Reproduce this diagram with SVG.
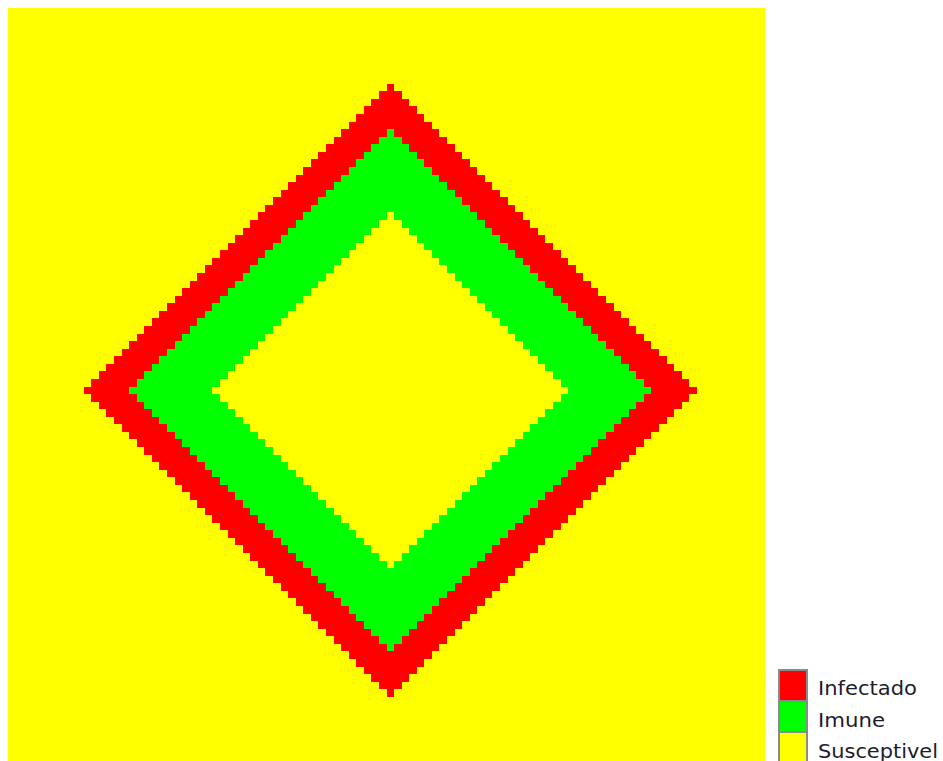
<svg xmlns="http://www.w3.org/2000/svg" width="943" height="761" viewBox="0 0 943 761">
<style>
.s{fill:#ffff00}
.i{fill:#ff0000}
.m{fill:#00ff00}
.sw{stroke:#8a8a8a;stroke-width:2}
.lb{font-family:"DejaVu Sans","Liberation Sans",sans-serif;font-size:19px;fill:#1c1c2c}
</style>
<rect width="943" height="761" fill="#ffffff"/>
<g id="grid" transform="translate(8,8) scale(7.57)" shape-rendering="crispEdges">
<rect class="s" x="0" y="0" width="100" height="100"/>
<path id="infected-ring" class="i" d="M50 10 h1
v1h1 v1h1 v1h1 v1h1 v1h1 v1h1 v1h1 v1h1 v1h1 v1h1
v1h1 v1h1 v1h1 v1h1 v1h1 v1h1 v1h1 v1h1 v1h1 v1h1
v1h1 v1h1 v1h1 v1h1 v1h1 v1h1 v1h1 v1h1 v1h1 v1h1
v1h1 v1h1 v1h1 v1h1 v1h1 v1h1 v1h1 v1h1 v1h1 v1h1
v1
h-1v1 h-1v1 h-1v1 h-1v1 h-1v1 h-1v1 h-1v1 h-1v1 h-1v1 h-1v1
h-1v1 h-1v1 h-1v1 h-1v1 h-1v1 h-1v1 h-1v1 h-1v1 h-1v1 h-1v1
h-1v1 h-1v1 h-1v1 h-1v1 h-1v1 h-1v1 h-1v1 h-1v1 h-1v1 h-1v1
h-1v1 h-1v1 h-1v1 h-1v1 h-1v1 h-1v1 h-1v1 h-1v1 h-1v1 h-1v1
h-1
v-1h-1 v-1h-1 v-1h-1 v-1h-1 v-1h-1 v-1h-1 v-1h-1 v-1h-1 v-1h-1 v-1h-1
v-1h-1 v-1h-1 v-1h-1 v-1h-1 v-1h-1 v-1h-1 v-1h-1 v-1h-1 v-1h-1 v-1h-1
v-1h-1 v-1h-1 v-1h-1 v-1h-1 v-1h-1 v-1h-1 v-1h-1 v-1h-1 v-1h-1 v-1h-1
v-1h-1 v-1h-1 v-1h-1 v-1h-1 v-1h-1 v-1h-1 v-1h-1 v-1h-1 v-1h-1 v-1h-1
v-1
h1v-1 h1v-1 h1v-1 h1v-1 h1v-1 h1v-1 h1v-1 h1v-1 h1v-1 h1v-1
h1v-1 h1v-1 h1v-1 h1v-1 h1v-1 h1v-1 h1v-1 h1v-1 h1v-1 h1v-1
h1v-1 h1v-1 h1v-1 h1v-1 h1v-1 h1v-1 h1v-1 h1v-1 h1v-1 h1v-1
h1v-1 h1v-1 h1v-1 h1v-1 h1v-1 h1v-1 h1v-1 h1v-1 h1v-1 h1v-1
z"/>
<path id="immune-ring" class="m" d="M50 16 h1
v1h1 v1h1 v1h1 v1h1 v1h1 v1h1 v1h1 v1h1 v1h1 v1h1
v1h1 v1h1 v1h1 v1h1 v1h1 v1h1 v1h1 v1h1 v1h1 v1h1
v1h1 v1h1 v1h1 v1h1 v1h1 v1h1 v1h1 v1h1 v1h1 v1h1
v1h1 v1h1 v1h1 v1h1
v1
h-1v1 h-1v1 h-1v1 h-1v1 h-1v1 h-1v1 h-1v1 h-1v1 h-1v1 h-1v1
h-1v1 h-1v1 h-1v1 h-1v1 h-1v1 h-1v1 h-1v1 h-1v1 h-1v1 h-1v1
h-1v1 h-1v1 h-1v1 h-1v1 h-1v1 h-1v1 h-1v1 h-1v1 h-1v1 h-1v1
h-1v1 h-1v1 h-1v1 h-1v1
h-1
v-1h-1 v-1h-1 v-1h-1 v-1h-1 v-1h-1 v-1h-1 v-1h-1 v-1h-1 v-1h-1 v-1h-1
v-1h-1 v-1h-1 v-1h-1 v-1h-1 v-1h-1 v-1h-1 v-1h-1 v-1h-1 v-1h-1 v-1h-1
v-1h-1 v-1h-1 v-1h-1 v-1h-1 v-1h-1 v-1h-1 v-1h-1 v-1h-1 v-1h-1 v-1h-1
v-1h-1 v-1h-1 v-1h-1 v-1h-1
v-1
h1v-1 h1v-1 h1v-1 h1v-1 h1v-1 h1v-1 h1v-1 h1v-1 h1v-1 h1v-1
h1v-1 h1v-1 h1v-1 h1v-1 h1v-1 h1v-1 h1v-1 h1v-1 h1v-1 h1v-1
h1v-1 h1v-1 h1v-1 h1v-1 h1v-1 h1v-1 h1v-1 h1v-1 h1v-1 h1v-1
h1v-1 h1v-1 h1v-1 h1v-1
z"/>
<path id="susceptible-core" class="s" d="M50 27 h1
v1h1 v1h1 v1h1 v1h1 v1h1 v1h1 v1h1 v1h1 v1h1 v1h1
v1h1 v1h1 v1h1 v1h1 v1h1 v1h1 v1h1 v1h1 v1h1 v1h1
v1h1 v1h1 v1h1
v1
h-1v1 h-1v1 h-1v1 h-1v1 h-1v1 h-1v1 h-1v1 h-1v1 h-1v1 h-1v1
h-1v1 h-1v1 h-1v1 h-1v1 h-1v1 h-1v1 h-1v1 h-1v1 h-1v1 h-1v1
h-1v1 h-1v1 h-1v1
h-1
v-1h-1 v-1h-1 v-1h-1 v-1h-1 v-1h-1 v-1h-1 v-1h-1 v-1h-1 v-1h-1 v-1h-1
v-1h-1 v-1h-1 v-1h-1 v-1h-1 v-1h-1 v-1h-1 v-1h-1 v-1h-1 v-1h-1 v-1h-1
v-1h-1 v-1h-1 v-1h-1
v-1
h1v-1 h1v-1 h1v-1 h1v-1 h1v-1 h1v-1 h1v-1 h1v-1 h1v-1 h1v-1
h1v-1 h1v-1 h1v-1 h1v-1 h1v-1 h1v-1 h1v-1 h1v-1 h1v-1 h1v-1
h1v-1 h1v-1 h1v-1
z"/>
</g>
<g id="legend">
<g id="legend-infectado">
<rect class="i sw" x="779" y="670" width="28" height="31"/>
<text class="lb" x="818" y="695" textLength="99" lengthAdjust="spacingAndGlyphs">Infectado</text>
</g>
<g id="legend-imune">
<rect class="m sw" x="779" y="701" width="28" height="31"/>
<text class="lb" x="818" y="727" textLength="67" lengthAdjust="spacingAndGlyphs">Imune</text>
</g>
<g id="legend-susceptivel">
<rect class="s sw" x="779" y="732" width="28" height="31"/>
<text class="lb" x="818" y="758" textLength="120" lengthAdjust="spacingAndGlyphs">Susceptivel</text>
</g>
</g>
</svg>
